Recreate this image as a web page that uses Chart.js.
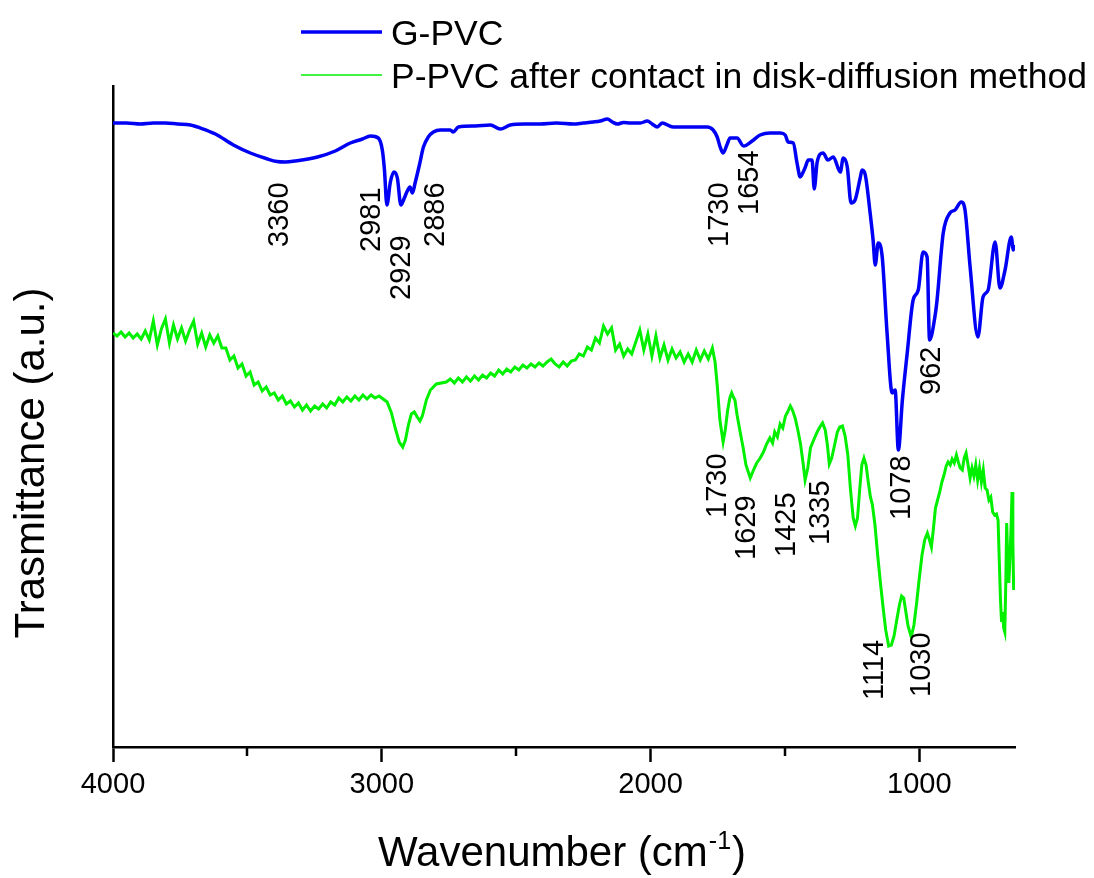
<!DOCTYPE html>
<html>
<head>
<meta charset="utf-8">
<title>FTIR spectra</title>
<script src="https://cdn.jsdelivr.net/npm/chart.js@4.4.1/dist/chart.umd.min.js"></script>
<style>
  html, body { margin: 0; padding: 0; background: #ffffff; }
  canvas { display: block; }
</style>
</head>
<body>
<canvas id="ftir" width="1094" height="878"></canvas>
<script>
// Axis ticks (wavenumber, cm^-1)
const xTickValues = [4000, 3000, 2000, 1000];
const xMinorTickValues = [3500, 2500, 1500];

// Series names
const seriesNames = ['G-PVC', 'P-PVC after contact in disk-diffusion method'];

// G-PVC spectrum
const gpvcWavenumber = [
  4000, 3950, 3898, 3850, 3805, 3760, 3712, 3675, 3619, 3552, 3489, 3425, 3390, 3360, 3321,
  3239, 3173, 3117, 3072, 3042, 3013, 2998, 2990, 2981, 2968, 2955, 2942, 2929, 2916, 2905,
  2895, 2886, 2876, 2860, 2845, 2827, 2808, 2782, 2745, 2734, 2715, 2652, 2596, 2559, 2522,
  2470, 2410, 2350, 2287, 2250, 2213, 2187, 2161, 2142, 2124, 2100, 2075, 2038, 2012, 1994,
  1975, 1957, 1916, 1853, 1789, 1767, 1752, 1741, 1730, 1716, 1704, 1678, 1654, 1622, 1592,
  1555, 1517, 1499, 1488, 1469, 1455, 1443, 1432, 1424, 1413, 1399, 1391, 1380, 1358, 1340,
  1320, 1294, 1283, 1268, 1254, 1239, 1220, 1213, 1201, 1183, 1172, 1164, 1153, 1138, 1120,
  1101, 1090, 1078, 1063, 1045, 1023, 1004, 986, 971, 962, 941, 934, 911, 886, 867,
  844, 830, 811, 782, 763, 744, 718, 700, 681, 658, 650, 646
];
const gpvcValue = [
  62.4, 62.4, 62.3, 62.4, 62.4, 62.3, 62.2, 61.9, 61.3, 60.2, 59.4, 58.8, 58.55, 58.5, 58.6,
  59.0, 59.6, 60.4, 60.8, 61.1, 60.9, 59.7, 57.7, 54.2, 56.5, 57.5, 56.9, 54.2, 54.9, 55.6,
  56.0, 55.4, 56.4, 58.2, 60.0, 61.0, 61.5, 61.7, 61.7, 61.5, 62.0, 62.1, 62.2, 61.8, 62.2,
  62.3, 62.3, 62.4, 62.3, 62.4, 62.5, 62.6, 62.8, 62.5, 62.3, 62.45, 62.4, 62.4, 62.6, 62.3,
  62.0, 62.4, 62.0, 62.0, 62.0, 61.7, 61.0, 60.0, 59.4, 60.2, 60.9, 60.9, 60.1, 60.6, 61.2,
  61.4, 61.4, 61.2, 60.5, 60.4, 58.4, 57.0, 57.5, 58.0, 58.7, 58.7, 55.8, 58.5, 59.4, 58.7,
  59.0, 57.5, 58.9, 58.0, 54.4, 54.7, 56.9, 57.7, 57.2, 53.4, 50.7, 48.2, 50.4, 49.0, 41.4,
  35.4, 35.7, 29.7, 34.7, 39.4, 44.7, 45.7, 49.5, 49.0, 40.7, 43.2, 44.7, 51.4, 53.4, 53.7,
  54.5, 53.7, 48.0, 41.0, 45.0, 45.7, 50.5, 45.9, 47.7, 51.0, 49.7, 50.2
];

// P-PVC spectrum after contact in the disk-diffusion test
const ppvcWavenumber = [
  4000, 3985, 3970, 3955, 3940, 3925, 3910, 3895, 3880, 3865, 3850, 3835, 3820, 3805, 3790,
  3775, 3760, 3745, 3730, 3715, 3700, 3685, 3670, 3655, 3640, 3625, 3610, 3595, 3580, 3565,
  3550, 3535, 3520, 3505, 3490, 3475, 3460, 3445, 3430, 3415, 3400, 3385, 3370, 3355, 3340,
  3325, 3310, 3295, 3280, 3265, 3250, 3235, 3220, 3205, 3190, 3175, 3160, 3145, 3130, 3115,
  3100, 3085, 3070, 3055, 3040, 3025, 3010, 2995, 2980, 2964, 2950, 2935, 2922, 2912, 2901,
  2890, 2879, 2868, 2858, 2849, 2834, 2819, 2797, 2760, 2745, 2730, 2715, 2700, 2685, 2670,
  2655, 2640, 2625, 2610, 2595, 2580, 2565, 2550, 2535, 2520, 2505, 2490, 2475, 2460, 2445,
  2430, 2415, 2400, 2385, 2370, 2355, 2340, 2325, 2310, 2295, 2280, 2265, 2250, 2235, 2220,
  2205, 2190, 2175, 2160, 2145, 2130, 2115, 2100, 2085, 2070, 2055, 2040, 2025, 2010, 1995,
  1980, 1965, 1950, 1935, 1920, 1905, 1890, 1875, 1860, 1845, 1830, 1815, 1800, 1785, 1770,
  1760, 1752, 1742, 1730, 1722, 1713, 1705, 1698, 1692, 1686, 1678, 1668, 1656, 1645, 1629,
  1617, 1605, 1592, 1580, 1568, 1556, 1546, 1538, 1528, 1518, 1508, 1498, 1490, 1480, 1472,
  1462, 1452, 1442, 1433, 1425, 1415, 1405, 1393, 1380, 1368, 1360, 1350, 1342, 1335, 1326,
  1316, 1305, 1296, 1286, 1276, 1266, 1256, 1246, 1238, 1230, 1222, 1214, 1206, 1198, 1190,
  1182, 1175, 1165, 1155, 1145, 1135, 1125, 1114, 1104, 1094, 1084, 1074, 1066, 1058, 1050,
  1042, 1030, 1020, 1010, 1000, 990, 980, 970, 962, 955, 948, 940, 932, 924, 916,
  908, 900, 893, 885, 878, 870, 862, 855, 848, 840, 833, 826, 818, 811, 804,
  797, 790, 783, 776, 769, 762, 755, 748, 741, 734, 727, 720, 713, 707, 702,
  698, 694, 690, 686, 682, 678, 675, 671, 667, 663, 659, 655, 652, 649
];
const ppvcValue = [
  41.4, 41.1, 41.5, 41.0, 41.4, 40.9, 41.3, 40.8, 41.6, 40.7, 42.6, 40.2, 41.8, 42.8, 40.4,
  42.2, 40.8, 41.9, 40.6, 41.7, 42.6, 40.3, 41.4, 40.0, 41.2, 40.4, 41.1, 39.9, 39.9, 38.7,
  39.1, 37.9, 38.3, 37.1, 37.5, 36.2, 36.5, 35.6, 36.0, 35.2, 35.4, 34.7, 35.1, 34.3, 34.6,
  34.0, 34.4, 33.7, 34.2, 33.6, 34.1, 33.8, 34.3, 33.9, 34.5, 34.2, 34.9, 34.5, 35.0, 34.6,
  35.1, 34.7, 35.2, 34.8, 35.2, 34.9, 35.1, 34.8, 34.5, 33.4, 31.9, 30.5, 30.0, 30.7, 32.2,
  33.3, 33.5, 33.0, 32.6, 33.1, 34.7, 35.7, 36.3, 36.5, 36.8, 36.4, 36.9, 36.5, 37.0, 36.6,
  37.1, 36.7, 37.2, 36.9, 37.4, 37.1, 37.7, 37.3, 37.8, 37.5, 38.0, 37.7, 38.2, 37.9, 38.3,
  38.0, 38.4, 38.1, 38.5, 38.8, 38.3, 38.0, 38.5, 38.1, 38.6, 38.7, 39.3, 39.1, 40.0, 39.7,
  40.9, 40.4, 42.1, 41.3, 41.9, 39.7, 40.3, 39.1, 39.8, 39.3, 40.5, 41.7, 39.7, 41.3, 39.1,
  41.1, 38.9, 40.2, 38.7, 39.8, 38.9, 39.5, 38.5, 39.3, 38.5, 39.7, 38.7, 39.6, 38.8, 39.9,
  38.5, 36.2, 32.7, 30.5, 31.7, 33.7, 34.9, 35.4, 35.0, 34.7, 33.2, 31.7, 30.0, 28.2, 26.9,
  27.7, 28.4, 28.9, 29.5, 30.3, 30.9, 30.4, 31.5, 31.0, 32.3, 31.9, 33.1, 33.5, 34.1, 33.7,
  32.9, 31.7, 30.3, 28.5, 26.7, 27.9, 29.9, 30.7, 31.5, 32.1, 32.4, 31.7, 30.2, 28.3, 28.9,
  30.1, 31.5, 32.0, 32.1, 31.1, 29.2, 25.7, 22.9, 22.1, 22.9, 25.7, 28.2, 28.9, 28.2, 26.5,
  25.0, 24.3, 22.2, 19.2, 16.5, 14.0, 11.7, 10.1, 10.2, 11.1, 12.7, 14.2, 15.1, 14.9, 13.5,
  12.1, 11.0, 12.2, 14.4, 16.9, 19.2, 20.7, 21.4, 20.7, 20.0, 21.7, 23.9, 24.7, 25.5, 26.5,
  27.2, 28.1, 28.5, 28.2, 28.8, 28.4, 29.2, 28.5, 27.9, 27.7, 28.9, 29.4, 28.1, 26.9, 27.9,
  27.1, 28.2, 26.7, 27.9, 26.5, 27.7, 25.9, 25.7, 24.7, 25.0, 23.5, 23.2, 23.3, 22.7, 18.2,
  14.7, 12.5, 13.5, 11.9, 11.5, 16.7, 22.4, 18.7, 16.4, 18.7, 21.7, 25.5, 20.7, 15.7
];

// Band assignments written beside the spectra: text and the (wavenumber, value) point
// where the upward-reading label starts.
const peakLabels = [
  { text: '3360', at: [3377, 50.0] },
  { text: '2981', at: [3035, 49.5] },
  { text: '2929', at: [2923, 44.7] },
  { text: '2886', at: [2797, 50.0] },
  { text: '1730', at: [1741, 50.0] },
  { text: '1654', at: [1629, 53.2] },
  { text: '962',  at: [952, 35.2] },
  { text: '1730', at: [1748, 22.9] },
  { text: '1629', at: [1641, 18.7] },
  { text: '1425', at: [1492, 19.0] },
  { text: '1335', at: [1365, 20.2] },
  { text: '1078', at: [1064, 22.7] },
  { text: '1114', at: [1164, 4.7] },
  { text: '1030', at: [990, 5.0] }
];

const FONT = '"Liberation Sans", Arial, Helvetica, sans-serif';
const BLUE = '#0000f5';
const GREEN = '#00f000';

const toPoints = (xs, ys) => xs.map((x, i) => ({ x, y: ys[i] }));

// Legend, axis titles, minor ticks and band labels
const decorations = {
  id: 'decorations',
  afterDraw(chart) {
    const { ctx, chartArea } = chart;
    const xs = chart.scales.x;
    const ys = chart.scales.y;
    ctx.save();

    // minor ticks on the wavenumber axis
    ctx.strokeStyle = '#000';
    ctx.lineWidth = 2.5;
    xMinorTickValues.forEach(v => {
      const px = Math.round(xs.getPixelForValue(v));
      ctx.beginPath();
      ctx.moveTo(px, chartArea.bottom);
      ctx.lineTo(px, chartArea.bottom + 9);
      ctx.stroke();
    });

    // band labels, reading upward
    ctx.fillStyle = '#000';
    ctx.font = `29px ${FONT}`;
    ctx.textAlign = 'left';
    ctx.textBaseline = 'middle';
    peakLabels.forEach(p => {
      ctx.save();
      ctx.translate(xs.getPixelForValue(p.at[0]), ys.getPixelForValue(p.at[1]));
      ctx.rotate(-Math.PI / 2);
      ctx.fillText(p.text, 0, 0);
      ctx.restore();
    });

    // legend
    const legendRows = [
      { name: seriesNames[0], color: BLUE, width: 3.5, y: 32 },
      { name: seriesNames[1], color: GREEN, width: 1.5, y: 75 }
    ];
    ctx.font = `35.5px ${FONT}`;
    ctx.textBaseline = 'alphabetic';
    legendRows.forEach(r => {
      ctx.strokeStyle = r.color;
      ctx.lineWidth = r.width;
      ctx.beginPath();
      ctx.moveTo(301, r.y);
      ctx.lineTo(382, r.y);
      ctx.stroke();
      ctx.fillStyle = '#000';
      ctx.fillText(r.name, 391, r.y + 13);
    });

    // x axis title with superscript
    const mainText = 'Wavenumber (cm';
    const supText = '-1';
    const tailText = ')';
    ctx.font = `42px ${FONT}`;
    const wMain = ctx.measureText(mainText).width;
    const wTail = ctx.measureText(tailText).width;
    ctx.font = `25px ${FONT}`;
    const wSup = ctx.measureText(supText).width;
    const cx = (chartArea.left + chartArea.right) / 2 - 3;
    let tx = cx - (wMain + wSup + wTail) / 2;
    const base = 866;
    ctx.fillStyle = '#000';
    ctx.textAlign = 'left';
    ctx.font = `42px ${FONT}`;
    ctx.fillText(mainText, tx, base);
    tx += wMain;
    ctx.font = `25px ${FONT}`;
    ctx.fillText(supText, tx + 1, base - 17);
    tx += wSup + 2;
    ctx.font = `42px ${FONT}`;
    ctx.fillText(tailText, tx, base);

    // y axis title
    ctx.save();
    ctx.translate(44, 463);
    ctx.rotate(-Math.PI / 2);
    ctx.textAlign = 'center';
    ctx.font = `42px ${FONT}`;
    ctx.fillText('Trasmittance (a.u.)', 0, 0);
    ctx.restore();

    ctx.restore();
  }
};

new Chart(document.getElementById('ftir'), {
  type: 'line',
  data: {
    datasets: [
      {
        label: seriesNames[0],
        data: toPoints(gpvcWavenumber, gpvcValue),
        borderColor: BLUE,
        borderWidth: 3.5,
        pointRadius: 0,
        cubicInterpolationMode: 'monotone',
        fill: false
      },
      {
        label: seriesNames[1],
        data: toPoints(ppvcWavenumber, ppvcValue),
        borderColor: GREEN,
        borderWidth: 3,
        pointRadius: 0,
        tension: 0,
        fill: false
      }
    ]
  },
  options: {
    responsive: false,
    animation: false,
    events: [],
    layout: { padding: { top: 86, right: 79, left: 0, bottom: 0 } },
    plugins: {
      legend: { display: false },
      tooltip: { enabled: false },
      title: { display: false }
    },
    scales: {
      x: {
        type: 'linear',
        reverse: true,
        min: 644,
        max: 4000,
        afterBuildTicks(scale) {
          scale.ticks = xTickValues.map(v => ({ value: v }));
        },
        afterFit(scale) { scale.height = 131; },
        ticks: {
          color: '#000',
          font: { family: FONT, size: 29 },
          padding: 6,
          maxRotation: 0,
          autoSkip: false,
          callback: value => String(value)
        },
        grid: {
          display: true,
          drawOnChartArea: false,
          drawTicks: true,
          tickLength: 15,
          tickWidth: 2.5,
          tickColor: '#000',
          color: '#000'
        },
        border: { display: true, color: '#000', width: 2.5 }
      },
      y: {
        type: 'linear',
        min: 0,
        max: 66.1,
        afterFit(scale) { scale.width = 113; },
        ticks: { display: false },
        grid: { display: false },
        border: { display: true, color: '#000', width: 2.5 }
      }
    }
  },
  plugins: [decorations]
});
</script>
</body>
</html>
